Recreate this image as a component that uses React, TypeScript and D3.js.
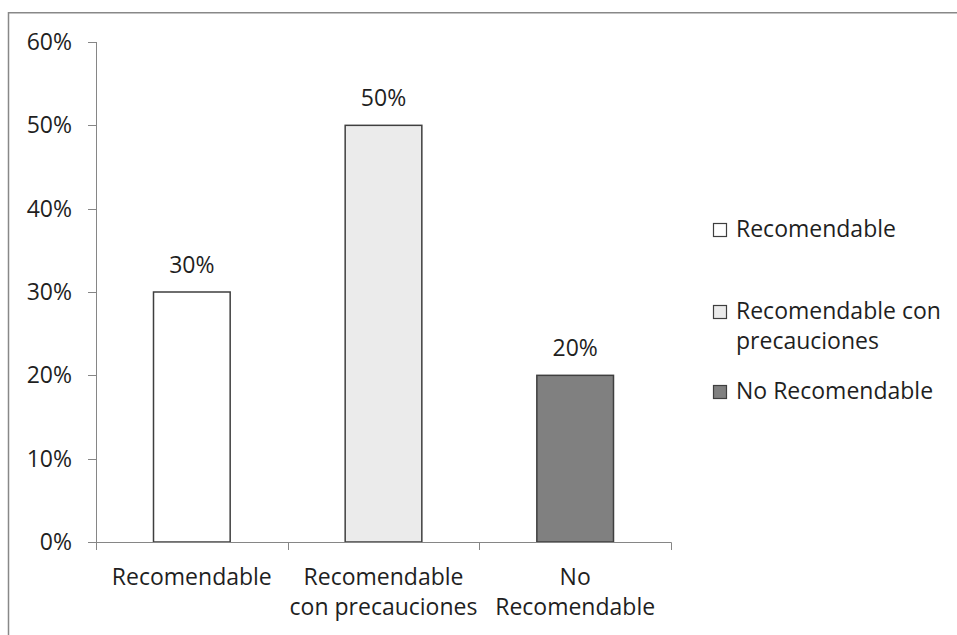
import React from "react";
import * as d3 from "d3";

const categories = ["Recomendable", "Recomendable con precauciones", "No Recomendable"];
const categoryLabelLines = [["Recomendable"], ["Recomendable", "con precauciones"], ["No", "Recomendable"]];
const values = [0.3, 0.5, 0.2];
const yTickValues = [0, 0.1, 0.2, 0.3, 0.4, 0.5, 0.6];
const legendLabelLines = [["Recomendable"], ["Recomendable con", "precauciones"], ["No Recomendable"]];

const barFills = ["#ffffff", "#ebebeb", "#808080"];

const W = 957;
const H = 635;
const FONT = "'Open Sans', 'DejaVu Sans', sans-serif";
const FS = 23;
const TEXT = "#1f1f1f";
const AXIS = "#868686";

export default function App() {
  const x = d3
    .scaleBand<string>()
    .domain(categories)
    .range([96, 671])
    .paddingInner(0.6)
    .paddingOuter(0.3);
  const xBounds = d3.scaleBand<string>().domain(categories).range([96, 671]);
  const y = d3.scaleLinear().domain([0, 0.6]).range([542, 42]);
  const pct = d3.format(".0%");

  const boundaries = [...categories.map((c) => xBounds(c)!), 671];

  const legendRows = [237, 319, 399];

  return (
    <svg
      width={W}
      height={H}
      style={{ position: "absolute", left: 0, top: 0, background: "#fff" }}
      fontFamily={FONT}
    >
      <rect x={8.5} y={12.75} width={W + 20} height={H + 20} fill="#fff" stroke="#888" strokeWidth={1.5} />

      {/* y axis */}
      <line x1={96.5} x2={96.5} y1={42} y2={542} stroke={AXIS} strokeWidth={1} />
      {yTickValues.map((t) => (
        <g key={t}>
          <line x1={88} x2={96.5} y1={Math.round(y(t)) + 0.5} y2={Math.round(y(t)) + 0.5} stroke={AXIS} />
          <text x={72} y={y(t) + 8} textAnchor="end" fontSize={FS} fill={TEXT}>
            {pct(t)}
          </text>
        </g>
      ))}

      {/* bars */}
      {categories.map((c, i) => (
        <rect
          key={c}
          x={x(c)!}
          y={y(values[i])}
          width={x.bandwidth()}
          height={y(0) - y(values[i])}
          fill={barFills[i]}
          stroke="#3f3f3f"
          strokeWidth={1.5}
        />
      ))}

      {/* x axis */}
      <line x1={96} x2={671.5} y1={542.5} y2={542.5} stroke={AXIS} strokeWidth={1} />
      {boundaries.map((b, i) => (
        <line key={i} x1={Math.round(b) + 0.5} x2={Math.round(b) + 0.5} y1={542.5} y2={550} stroke={AXIS} />
      ))}

      {/* value labels */}
      {categories.map((c, i) => (
        <text
          key={c}
          x={x(c)! + x.bandwidth() / 2}
          y={y(values[i]) - 19}
          textAnchor="middle"
          fontSize={FS}
          fill={TEXT}
        >
          {pct(values[i])}
        </text>
      ))}

      {/* category labels */}
      {categories.map((c, i) => (
        <text key={c} textAnchor="middle" fontSize={FS} fill={TEXT}>
          {categoryLabelLines[i].map((ln, j) => (
            <tspan key={j} x={x(c)! + x.bandwidth() / 2} y={585 + j * 30}>
              {ln}
            </tspan>
          ))}
        </text>
      ))}

      {/* legend */}
      {legendLabelLines.map((lines, i) => (
        <g key={i}>
          <rect
            x={713.5}
            y={legendRows[i] - 13.5}
            width={13}
            height={13}
            fill={barFills[i]}
            stroke="#3f3f3f"
            strokeWidth={1.2}
          />
          <text fontSize={FS} fill={TEXT}>
            {lines.map((ln, j) => (
              <tspan key={j} x={736} y={legendRows[i] + j * 30}>
                {ln}
              </tspan>
            ))}
          </text>
        </g>
      ))}
    </svg>
  );
}
